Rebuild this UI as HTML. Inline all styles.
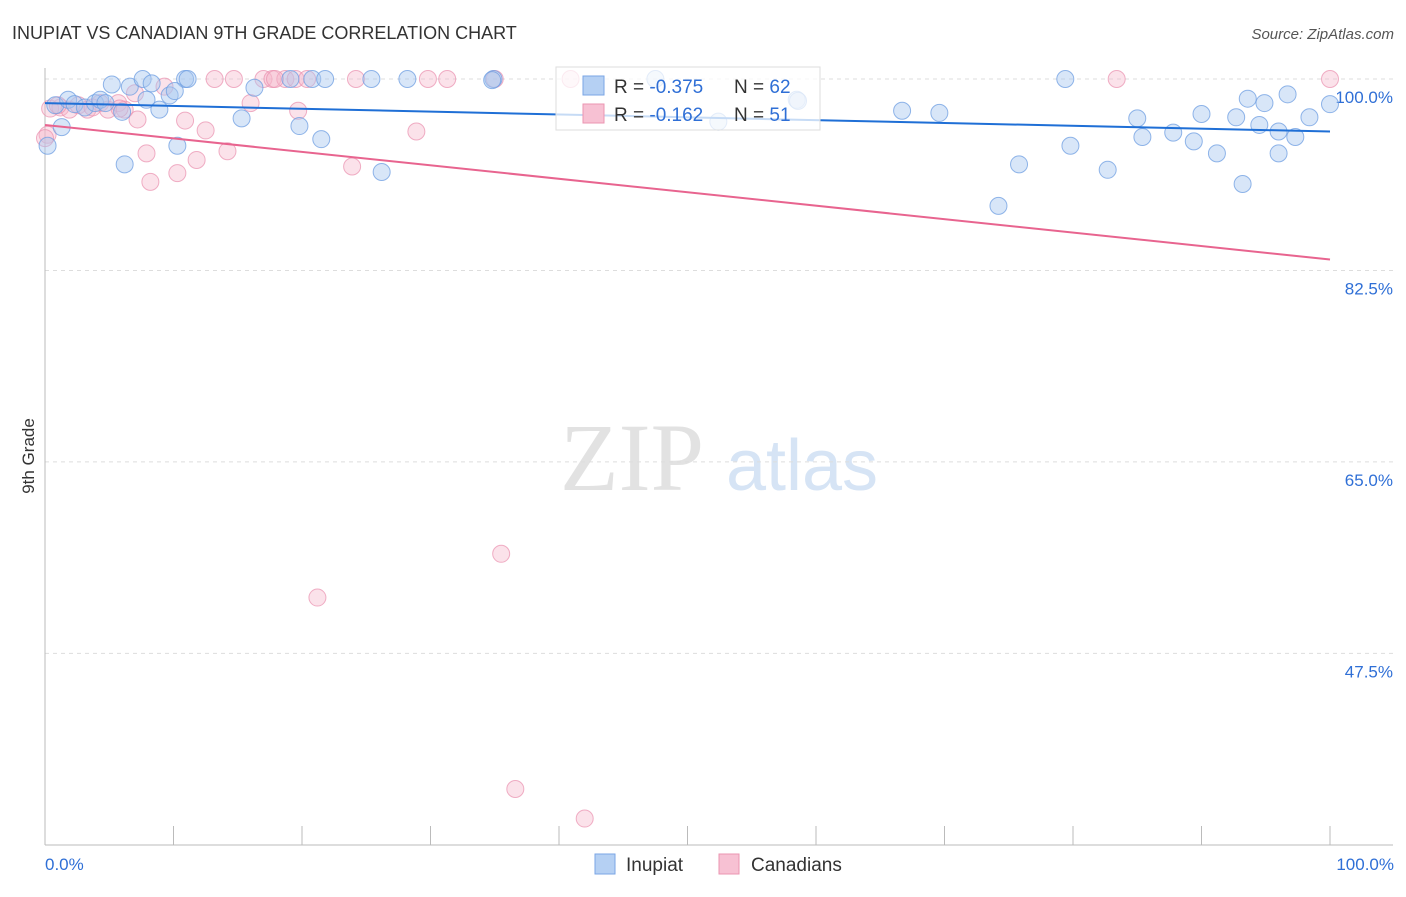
<!DOCTYPE html>
<html><head><meta charset="utf-8"><style>
body{margin:0;background:#fff;font-family:"Liberation Sans",sans-serif;}
svg text{font-family:"Liberation Sans",sans-serif;}
</style></head><body>
<svg id="chart" width="1406" height="892" viewBox="0 0 1406 892">
<text x="12" y="39" font-size="18" fill="#333">INUPIAT VS CANADIAN 9TH GRADE CORRELATION CHART</text>
<text x="1394" y="39" font-size="15" fill="#555" font-style="italic" text-anchor="end">Source: ZipAtlas.com</text>
<text x="34" y="456" font-size="17" fill="#333" transform="rotate(-90 34 456)" text-anchor="middle">9th Grade</text>
<g>
<text x="632" y="490" font-size="96" fill="#e2e2e2" text-anchor="middle" font-family="Liberation Serif,serif" style="font-family:'Liberation Serif',serif">ZIP</text>
<text x="802" y="490" font-size="72" fill="#d6e4f5" text-anchor="middle">atlas</text>
</g>
<g id="grid"></g><g id="axes"></g><g id="pts"></g><g id="lines"></g>
<g>
<rect x="556" y="67" width="264" height="63" fill="#fff" fill-opacity="0.75" stroke="#ddd"/>
<rect x="583" y="76" width="21" height="19" fill="#b5d0f3" stroke="#7aa6e6"/>
<rect x="583" y="104" width="21" height="19" fill="#f7c1d3" stroke="#eb95b2"/>
<text x="614" y="93" font-size="19" fill="#333">R = <tspan fill="#2f6fd6">-0.375</tspan></text>
<text x="734" y="93" font-size="19" fill="#333">N = <tspan fill="#2f6fd6">62</tspan></text>
<text x="614" y="121" font-size="19" fill="#333">R = <tspan fill="#2f6fd6"> -0.162</tspan></text>
<text x="734" y="121" font-size="19" fill="#333">N = <tspan fill="#2f6fd6"> 51</tspan></text>
</g>
<g>
<rect x="595" y="854" width="20" height="20" fill="#b5d0f3" stroke="#7aa6e6"/>
<text x="626" y="871" font-size="19" fill="#333">Inupiat</text>
<rect x="719" y="854" width="20" height="20" fill="#f7c1d3" stroke="#eb95b2"/>
<text x="751" y="871" font-size="19" fill="#333">Canadians</text>
</g>
</svg>
<script>
const blueX=[0.2,1.3,0.8,1.8,2.3,3.1,3.9,4.3,4.7,5.2,6.0,6.2,6.6,7.6,7.9,8.3,8.9,9.7,10.3,10.9,11.1,15.3,16.3,19.1,19.8,20.8,21.5,21.8,25.4,26.2,28.2,34.9,47.5,52.4,58.5,66.7,69.6,74.2,75.8,79.4,79.8,82.7,85.0,85.4,87.8,89.4,90.0,91.2,92.7,93.2,93.6,94.5,94.9,96.0,96.0,96.7,97.3,98.4,100,58.6,10.1,34.8];
const blueY=[93.9,95.6,97.6,98.1,97.7,97.4,97.8,98.1,97.8,99.5,97.0,92.2,99.3,100,98.1,99.6,97.2,98.5,93.9,100,100,96.4,99.2,100,95.7,100,94.5,100,100,91.5,100,100,100,96.1,98.1,97.1,96.9,88.4,92.2,100,93.9,91.7,96.4,94.7,95.1,94.3,96.8,93.2,96.5,90.4,98.2,95.8,97.8,95.2,93.2,98.6,94.7,96.5,97.7,98.0,98.9,99.9];
const pinkX=[0.2,0.4,1.2,1.9,2.6,3.3,4.3,4.9,5.7,6.2,7.0,7.2,7.9,8.2,9.3,10.3,10.9,11.8,12.5,13.2,14.2,14.7,16.0,17.0,17.7,18.7,19.5,19.7,20.4,21.2,23.9,24.2,28.9,29.8,31.3,35.5,36.6,40.9,42.0,83.4,100,35.0,17.9,5.8,3.7,1.0,0];
const pinkY=[94.9,97.3,97.4,97.2,97.6,97.2,97.8,97.2,97.8,97.2,98.7,96.3,93.2,90.6,99.3,91.4,96.2,92.6,95.3,100,93.4,100,97.8,100,100,100,100,97.1,100,52.6,92.0,100,95.2,100,100,56.6,35.1,100,32.4,100,100,100,100,97.3,97.4,97.6,94.6];
const blueTrend=[97.8,95.2];
const pinkTrend=[95.8,83.5];
const yTicks=[100,82.5,65,47.5];
const yTickLabels=["100.0%","82.5%","65.0%","47.5%"];
const xTickLabels=["0.0%","100.0%"];
const NS="http://www.w3.org/2000/svg";
const X=v=>45+v*12.85, Y=v=>79+(100-v)*10.94;
function mk(tag,attrs,parent){const e=document.createElementNS(NS,tag);for(const k in attrs)e.setAttribute(k,attrs[k]);document.getElementById(parent).appendChild(e);return e;}
yTicks.forEach((t,i)=>{
 const l=mk('line',{x1:45,x2:1393,y1:Y(t),y2:Y(t),stroke:'#ddd','stroke-dasharray':'4,4'},'grid');
 
 
 const tx=mk('text',{x:1393,y:Y(t)+24,'font-size':17,fill:'#2f6fd6','text-anchor':'end'},'grid');
 tx.textContent=yTickLabels[i];
 
 
});
let a=mk('line',{x1:45,x2:45,y1:68,y2:845,stroke:'#bbb'},'axes');


a=mk('line',{x1:45,x2:1393,y1:845,y2:845,stroke:'#bbb'},'axes');


for(let i=0;i<=10;i++){const t=mk('line',{x1:X(i*10),x2:X(i*10),y1:826,y2:845,stroke:'#bbb'},'axes');
 
 }
[[0,'start',45],[1,'end',1394]].forEach(([i,anc,x])=>{const t=mk('text',{x:x,y:870,'font-size':17,fill:'#2f6fd6','text-anchor':anc},'axes');t.textContent=xTickLabels[i];
 
 });
pinkX.forEach((x,i)=>{const c=mk('circle',{cx:X(x),cy:Y(pinkY[i]),r:8.5,fill:'#f4b6cb','fill-opacity':0.4,stroke:'#e98fae','stroke-opacity':0.7},'pts');
 
 });
blueX.forEach((x,i)=>{const c=mk('circle',{cx:X(x),cy:Y(blueY[i]),r:8.5,fill:'#a9c8f0','fill-opacity':0.45,stroke:'#6d9de2','stroke-opacity':0.75},'pts');
 
 });
let ln=mk('line',{x1:X(0),y1:Y(pinkTrend[0]),x2:X(100),y2:Y(pinkTrend[1]),stroke:'#e8648f','stroke-width':2},'lines');


ln=mk('line',{x1:X(0),y1:Y(blueTrend[0]),x2:X(100),y2:Y(blueTrend[1]),stroke:'#1f6fd6','stroke-width':2},'lines');


</script>
</body></html>
